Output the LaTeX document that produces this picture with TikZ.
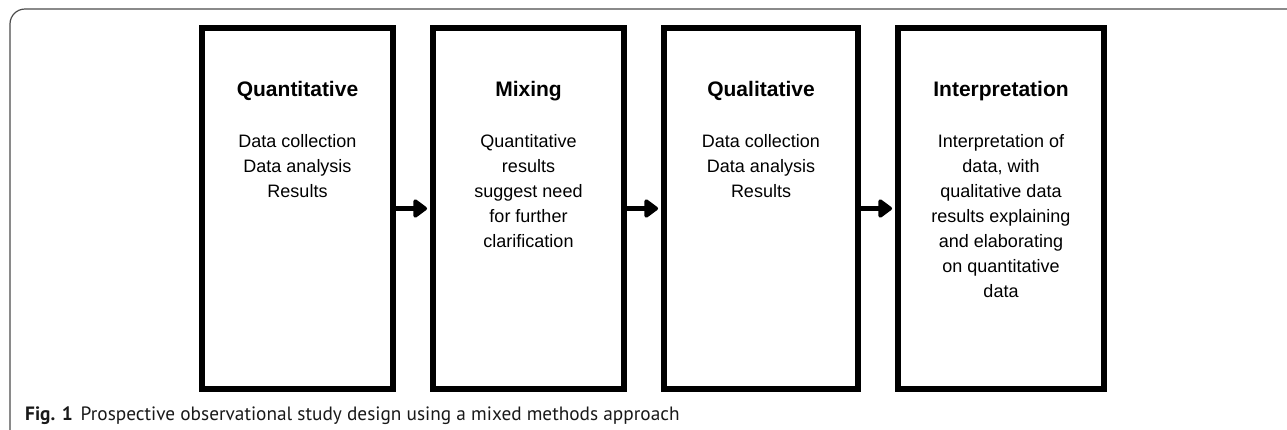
\documentclass[tikz,border=0pt]{standalone}
\usepackage{fontspec}
\setmainfont{Liberation Sans}
\newfontfamily\capfont{PT Sans}
\usetikzlibrary{arrows.meta}
\begin{document}
\begin{tikzpicture}[x=1pt,y=-1pt,
  stage/.style={draw=black,line width=6pt,minimum width=#1,minimum height=361pt,inner sep=0pt},
  head/.style={font=\fontsize{21}{25}\selectfont\bfseries,anchor=base,inner sep=0pt},
  body/.style={font=\fontsize{18}{25}\selectfont,align=center,anchor=north,inner sep=0pt},
  flow/.style={line width=5pt,-{Triangle[length=15pt,width=21pt,round]},shorten >=3pt},
  frameline/.style={draw=black!70,line width=1.2pt}]
\useasboundingbox (0,0) rectangle (1287,429);
\draw[frameline,rounded corners=15pt] (10,440) -- (10,9) -- (1300,9);
\node[stage=191pt] (q1) at (297.5,208.5) {};
\node[stage=191pt] (mx) at (528.5,208.5) {};
\node[stage=194pt] (q2) at (761,208.5) {};
\node[stage=206pt] (ip) at (1001,208.5) {};
\node[head] (q1h) at (297.5,96) {Quantitative};
\node[head] (mxh) at (528.5,96) {Mixing};
\node[head] (q2h) at (761,96) {Qualitative};
\node[head] (iph) at (1001,96) {Interpretation};
\node[body] (q1b) at (297.5,130) {\strut Data collection\\Data analysis\\Results};
\node[body] (mxb) at (528.5,130) {\strut Quantitative\\results\\suggest need\\for further\\clarification};
\node[body] (q2b) at (761,130) {\strut Data collection\\Data analysis\\Results};
\node[body] (ipb) at (1001,130) {\strut Interpretation of\\data, with\\qualitative data\\results explaining\\and elaborating\\on quantitative\\data};
\draw[flow] (q1.east) -- (mx.west);
\draw[flow] (mx.east) -- (q2.west);
\draw[flow] (q2.east) -- (ip.west);
\node[anchor=base west,inner sep=0pt,text=black!90,font=\capfont\fontsize{19.3}{21}\selectfont] (cap) at (25,420) {\textbf{Fig. 1}\hspace{8pt}Prospective observational study design using a mixed methods approach};
\end{tikzpicture}
\end{document}
